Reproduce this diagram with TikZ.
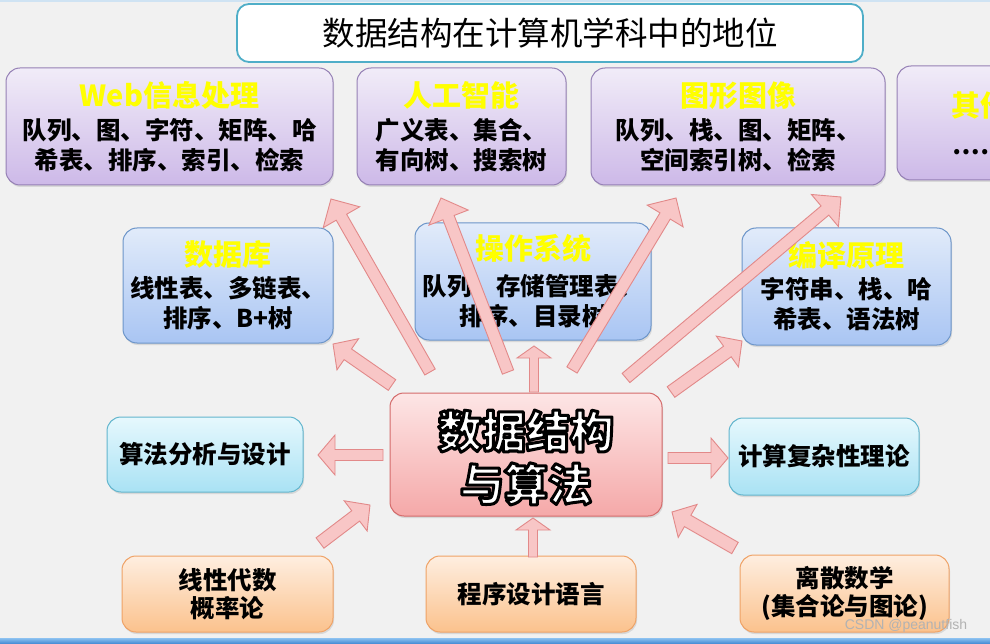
\documentclass[tikz,border=0pt]{standalone}
\usepackage{fontspec}
\newfontfamily\cjk{Noto Sans CJK SC}
\IfFontExistsTF{Noto Sans CJK SC Black}
  {\newfontfamily\cjkblack{Noto Sans CJK SC Black}}
  {\newcommand\cjkblack{\cjk\bfseries}}
\newfontfamily\wmfont{Liberation Sans}
\usetikzlibrary{calc,shadows}

\definecolor{bgcol}{HTML}{F1F1F1}
\definecolor{topline}{HTML}{CFE3F3}
\definecolor{barTop}{HTML}{86BDEE}
\definecolor{barBot}{HTML}{3F86D2}
\definecolor{titleline}{HTML}{4FAEC8}
\definecolor{ptop}{HTML}{F1ECF8}
\definecolor{pbot}{HTML}{CDB9E8}
\definecolor{pline}{HTML}{9580B5}
\definecolor{btop}{HTML}{E1EBFA}
\definecolor{bbot}{HTML}{A9C5F3}
\definecolor{bline}{HTML}{6C95C9}
\definecolor{ctop}{HTML}{E6F8FD}
\definecolor{cbot}{HTML}{A9E2F4}
\definecolor{cline}{HTML}{62B5CD}
\definecolor{rtop}{HTML}{FDE6E6}
\definecolor{rbot}{HTML}{F5A8A8}
\definecolor{rline}{HTML}{D46A6A}
\definecolor{otop}{HTML}{FEEEE0}
\definecolor{obot}{HTML}{FBC28D}
\definecolor{oline}{HTML}{EFA266}
\definecolor{afill}{HTML}{F8C6C6}
\definecolor{aline}{HTML}{E28989}
\definecolor{ttlyellow}{HTML}{FFFF00}

\tikzset{
  box/.style={rounded corners=14pt, line width=1pt, align=center, inner sep=0pt,
    font=\cjk\bfseries\fontsize{24.5}{30}\selectfont,
    drop shadow={opacity=0.22, shadow xshift=1pt, shadow yshift=-2pt}},
  pbox/.style={box, draw=pline, top color=ptop, bottom color=pbot},
  bbox/.style={box, draw=bline, top color=btop, bottom color=bbot},
  cbox/.style={box, draw=cline, top color=ctop, bottom color=cbot},
  rbox/.style={box, draw=rline, top color=rtop, bottom color=rbot},
  obox/.style={box, draw=oline, top color=otop, bottom color=obot,
    font=\cjk\bfseries\fontsize{24.5}{28}\selectfont},
  arrowsty/.style={draw=aline, fill=afill, line width=0.9pt, line join=miter},
  ctext/.style={align=center, inner sep=0pt, font=\cjkblack\fontsize{44}{53}\selectfont}
}
\newcommand\ttl[1]{{\fontsize{29}{30}\selectfont\color{ttlyellow}#1}}
\newcommand\outlon{\special{pdf:literal direct 0 G 3 w 1 j 2 Tr}}
\newcommand\outloff{\special{pdf:literal direct 0 Tr}}

\newcommand\barrow[5]{%
  \path let \p1=($(#2)-(#1)$) in \pgfextra{%
    \pgfmathsetmacro\tmpang{atan2(\y1,\x1)}%
    \pgfmathsetmacro\tmplen{veclen(\x1,\y1)}%
    \global\let\BAang\tmpang \global\let\BAlen\tmplen};
  \pgfmathsetmacro\BAbase{\BAlen-#5}%
  \begin{scope}[shift={(#1)}, rotate=\BAang]
    \draw[arrowsty] (0pt,-#3pt) -- (\BAbase pt,-#3pt) -- (\BAbase pt,-#4pt)
      -- (\BAlen pt,0pt) -- (\BAbase pt,#4pt) -- (\BAbase pt,#3pt) -- (0pt,#3pt) -- cycle;
  \end{scope}}

\begin{document}
\begin{tikzpicture}[x=1pt,y=-1pt]
\useasboundingbox (0,0) rectangle (990,644);
\begin{scope}
\clip (0,0) rectangle (990,644);
\fill[bgcol] (0,0) rectangle (990,644);
\fill[topline] (0,0) rectangle (990,2.5);
\shade[top color=barTop, bottom color=barBot] (0,638.5) rectangle (990,644);

% title
\node[rounded corners=12pt, draw=titleline, line width=1.8pt, fill=white,
  minimum width=626, minimum height=58, inner sep=0pt,
  font=\cjk\fontsize{32.5}{36}\selectfont] (title) at (550,33) {数据结构在计算机学科中的地位};

% top row
\node[pbox, minimum width=327, minimum height=117] (web) at (169.5,126.5)
  {\ttl{Web信息处理}\\[3pt]队列、图、字符、矩阵、哈\\希表、排序、索引、检索};
\node[pbox, minimum width=209, minimum height=117] (ai) at (461.5,126.5)
  {\ttl{人工智能}\\[3pt]广义表、集合、\\有向树、搜索树};
\node[pbox, minimum width=294, minimum height=117] (gfx) at (738,126.5)
  {\ttl{图形图像}\\[3pt]队列、栈、图、矩阵、\\空间索引树、检索};
\node[pbox, minimum width=166, minimum height=114] (other) at (980,123)
  {\ttl{其他}\\[8pt]……};

% middle row
\node[bbox, minimum width=210, minimum height=115] (db) at (228,285.5)
  {\ttl{数据库}\\[2pt]线性表、多链表、\\排序、B+树};
\node[bbox, minimum width=236, minimum height=117] (os) at (533,281.5)
  {\ttl{操作系统}\\[6pt]队列、存储管理表、\\排序、目录树};
\node[bbox, minimum width=209, minimum height=117] (comp) at (846.5,286.5)
  {\ttl{编译原理}\\[2pt]字符串、栈、哈\\希表、语法树};

% third row
\node[cbox, minimum width=196, minimum height=75] (algo) at (205,454.5) {算法分析与设计};
\node[rbox, minimum width=272, minimum height=123] (ds) at (526,454.5) {};
\node[cbox, minimum width=190, minimum height=77] (cplx) at (824,456.5) {计算复杂性理论};

% bottom row
\node[obox, minimum width=211, minimum height=76] (la) at (227.5,594) {线性代数\\概率论};
\node[obox, minimum width=210, minimum height=76] (pl) at (531,594) {程序设计语言};
\node[obox, minimum width=209, minimum height=77] (dm) at (844.5,593.5) {离散数学\\(集合论与图论)};

% arrow end points
\coordinate (a1s) at (430,372);  \coordinate (a1e) at (331,199);
\coordinate (a2s) at (508,372);  \coordinate (a2e) at (441,198);
\coordinate (a3s) at (534,392);  \coordinate (a3e) at (534,346);
\coordinate (a4s) at (572,370);  \coordinate (a4e) at (676,198);
\coordinate (a5s) at (626,378);  \coordinate (a5e) at (841,197);
\coordinate (a6s) at (671,392);  \coordinate (a6e) at (742,341);
\coordinate (a7s) at (392,385);  \coordinate (a7e) at (333,344);
\coordinate (a8s) at (383,455);  \coordinate (a8e) at (318,455);
\coordinate (a9s) at (668,458);  \coordinate (a9e) at (728,458);
\coordinate (a10s) at (320,543); \coordinate (a10e) at (370,505);
\coordinate (a11s) at (533,557); \coordinate (a11e) at (533,518);
\coordinate (a12s) at (735,548); \coordinate (a12e) at (672,512);

\barrow{a1s}{a1e}{6}{21}{21}
\barrow{a2s}{a2e}{6}{21}{21}
\barrow{a3s}{a3e}{4.5}{17}{12}
\barrow{a4s}{a4e}{6}{21}{21}
\barrow{a5s}{a5e}{6}{21}{21}
\barrow{a6s}{a6e}{6.5}{19}{18}
\barrow{a7s}{a7e}{6.5}{19}{18}
\barrow{a8s}{a8e}{5.5}{20}{17}
\barrow{a9s}{a9e}{5.5}{20}{17}
\barrow{a10s}{a10e}{6.5}{19}{18}
\barrow{a11s}{a11e}{4.5}{17}{12}
\barrow{a12s}{a12e}{6.5}{19}{18}

% outlined centre text
\node[ctext, text=white] (dstext) at ($(ds.center)+(0,3)$) {\outlon 数据结构\\\outlon 与算法\outloff};

% watermark
\node[font=\wmfont\fontsize{14}{14}\selectfont, text=gray!60, inner sep=0pt] (wm) at (906,626) {CSDN @peanutfish};
\end{scope}
\end{tikzpicture}
\end{document}
